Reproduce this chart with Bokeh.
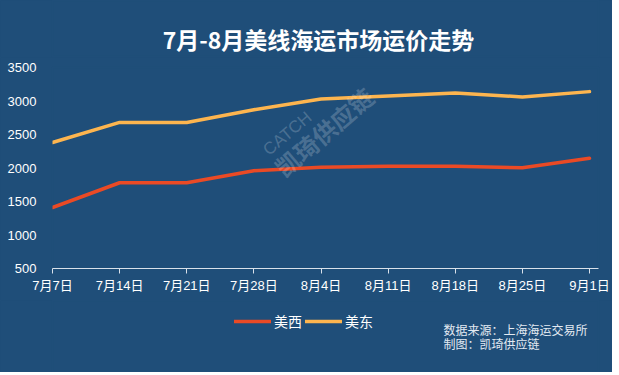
from bokeh.plotting import figure
from bokeh.layouts import column
from bokeh.models import Range1d, FixedTicker, Legend, LegendItem, Label
from bokeh.embed import file_html
from bokeh.resources import INLINE

# ---- data ----
dates = ["7月7日", "7月14日", "7月21日", "7月28日", "8月4日", "8月11日", "8月18日", "8月25日", "9月1日"]
us_west = [1410, 1780, 1780, 1960, 2010, 2025, 2025, 2005, 2145]
us_east = [2380, 2680, 2680, 2870, 3030, 3075, 3120, 3060, 3140]
series_names = ["美西", "美东"]
title_text = "7月-8月美线海运市场运价走势"
source_lines = ["数据来源：上海海运交易所", "制图：凯琦供应链"]

BG = "#1f4e79"
C_WEST = "#ea4a25"
C_EAST = "#fdb54f"
CJK = "Noto Sans CJK SC"
LAT = "Liberation Sans, Noto Sans CJK SC"
FL, FW, FR = 52, 546, 14   # frame left border, frame width, right border


def panel(h):
    f = figure(frame_width=FW, frame_height=h,
               min_border_left=FL, min_border_right=FR,
               min_border_top=0, min_border_bottom=0,
               x_range=Range1d(FL, FL + FW), y_range=Range1d(h, 0),
               x_axis_location=None, y_axis_location=None,
               output_backend="svg", toolbar_location=None,
               background_fill_color=BG, border_fill_color=BG,
               outline_line_color=BG, outline_line_width=2)
    f.grid.visible = False
    return f


# ---- title panel ----
pt = panel(57)
pt.add_layout(Label(x=318, y=38, text=title_text, text_align="center",
                    text_baseline="middle", text_color="white",
                    text_font=CJK, text_font_size="23px", text_font_style="bold"))

# ---- main chart ----
xs = list(range(len(dates)))
p = figure(frame_width=FW, frame_height=201,
           min_border_left=FL, min_border_right=FR,
           min_border_top=10, min_border_bottom=32,
           x_range=Range1d(0, 8.134), y_range=Range1d(500, 3500),
           output_backend="svg", toolbar_location=None,
           background_fill_color=BG, border_fill_color=BG,
           outline_line_color=BG, outline_line_width=2)
p.grid.visible = False

p.xaxis.ticker = FixedTicker(ticks=xs)
p.xaxis.major_label_overrides = {i: d for i, d in enumerate(dates)}
p.xaxis.axis_line_color = "#d9e1ea"
p.xaxis.major_tick_line_color = "#d9e1ea"
p.xaxis.major_tick_in = 0
p.xaxis.major_tick_out = 5
p.xaxis.minor_tick_line_color = None
p.xaxis.major_label_text_color = "white"
p.xaxis.major_label_text_font = LAT
p.xaxis.major_label_text_font_size = "13px"
p.xaxis.major_label_standoff = 4

p.yaxis.ticker = FixedTicker(ticks=[500, 1000, 1500, 2000, 2500, 3000, 3500])
p.yaxis.axis_line_color = None
p.yaxis.major_tick_line_color = None
p.yaxis.minor_tick_line_color = None
p.yaxis.major_label_text_color = "white"
p.yaxis.major_label_text_font = LAT
p.yaxis.major_label_text_font_size = "13px"
p.yaxis.major_label_standoff = 10

# watermark
p.add_layout(Label(x=3.50, y=2515, text="CATCH", angle=0.70, text_align="center",
                   text_baseline="middle", text_color="white", text_alpha=0.2,
                   text_font=LAT, text_font_size="17px"))
p.add_layout(Label(x=4.04, y=2545, text="凯琦供应链", angle=0.71, text_align="center",
                   text_baseline="middle", text_color="white", text_alpha=0.2,
                   text_font=CJK, text_font_size="24px", text_font_style="bold"))

p.line(xs, us_west, line_color=C_WEST, line_width=3.5, line_cap="round", line_join="round")
p.line(xs, us_east, line_color=C_EAST, line_width=3.5, line_cap="round", line_join="round")

# ---- bottom panel: legend + source ----
pb = panel(72)
l1 = pb.line(xs, us_west, line_color=C_WEST, line_width=3.5, line_cap="round", visible=False)
l2 = pb.line(xs, us_east, line_color=C_EAST, line_width=3.5, line_cap="round", visible=False)
legend = Legend(items=[LegendItem(label=series_names[0], renderers=[l1]),
                       LegendItem(label=series_names[1], renderers=[l2])],
                orientation="horizontal", location=(234 - FL, 41),
                background_fill_alpha=0, border_line_alpha=0,
                inactive_fill_alpha=0,
                padding=0, margin=0, spacing=3,
                glyph_width=37, glyph_height=20, label_standoff=3,
                label_text_color="white", label_text_font=CJK,
                label_text_font_size="14px")
pb.add_layout(legend)
pb.add_layout(Label(x=443, y=29, text=source_lines[0], text_align="left",
                    text_baseline="middle", text_color="#e3eaf2",
                    text_font=CJK, text_font_size="12px"))
pb.add_layout(Label(x=443, y=43, text=source_lines[1], text_align="left",
                    text_baseline="middle", text_color="#e3eaf2",
                    text_font=CJK, text_font_size="12px"))

layout = column(pt, p, pb, spacing=0, styles={"background-color": BG})
open("out.html", "w").write(file_html(layout, INLINE))
